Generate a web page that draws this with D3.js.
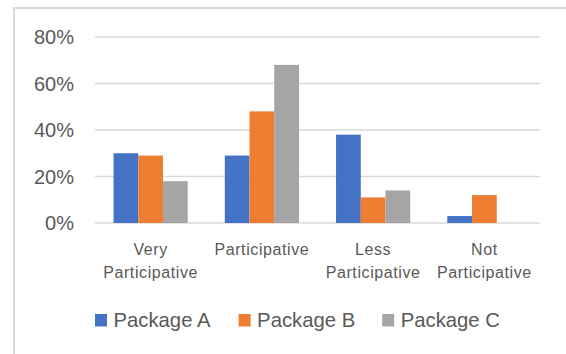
<!DOCTYPE html>
<html>
<head>
<meta charset="utf-8">
<script src="https://cdn.jsdelivr.net/npm/d3@7"></script>
<style>
  body { margin: 0; background: #fff; }
  svg { display: block; font-family: "Liberation Sans", Arial, sans-serif; }
</style>
</head>
<body>
<div id="chart"></div>
<script>
// data
var categories = [["Very", "Participative"], ["Participative"], ["Less", "Participative"], ["Not", "Participative"]];
var seriesNames = ["Package A", "Package B", "Package C"];
var packageA = [0.30, 0.29, 0.38, 0.03];
var packageB = [0.29, 0.48, 0.11, 0.12];
var packageC = [0.18, 0.68, 0.14, 0];
var yTicks = [0, 0.2, 0.4, 0.6, 0.8];
var colors = ["#4472C4", "#ED7D31", "#A5A5A5"];

var W = 566, H = 354;
var svg = d3.select("#chart").append("svg")
    .attr("width", W)
    .attr("height", H);

// chart frame (runs off the right/bottom edge)
svg.append("rect")
    .attr("x", 14).attr("y", 8)
    .attr("width", 600).attr("height", 400)
    .attr("fill", "none")
    .attr("stroke", "#D9D9D9")
    .attr("stroke-width", 2);

var plot = { left: 95, right: 540, top: 37, bottom: 223 };

var keys = categories.map(function (c) { return c.join(" "); });
var x = d3.scaleBand()
    .domain(keys)
    .range([plot.left, plot.right]);

var groupW = x.bandwidth() / 1.5 * 1; // gap width ~150%
var x1 = d3.scaleBand()
    .domain(seriesNames)
    .range([0, x.bandwidth() * 3 / 4.5]);

var y = d3.scaleLinear()
    .domain([0, 0.8])
    .range([plot.bottom, plot.top]);

// gridlines
svg.append("g")
    .selectAll("line")
    .data(yTicks)
    .enter().append("line")
    .attr("x1", plot.left).attr("x2", plot.right)
    .attr("y1", function (d) { return y(d); })
    .attr("y2", function (d) { return y(d); })
    .attr("stroke", "#D9D9D9")
    .attr("stroke-width", 1.5);

// y axis labels
svg.append("g")
    .selectAll("text")
    .data(yTicks)
    .enter().append("text")
    .attr("x", 74)
    .attr("y", function (d) { return y(d); })
    .attr("dy", "0.36em")
    .attr("text-anchor", "end")
    .attr("font-size", 20)
    .attr("fill", "#595959")
    .text(d3.format(".0%"));

// bars
var series = [packageA, packageB, packageC];
var offset = (x.bandwidth() - x1.range()[1]) / 2;
series.forEach(function (vals, si) {
    svg.append("g")
        .attr("fill", colors[si])
        .selectAll("rect")
        .data(vals)
        .enter().append("rect")
        .attr("x", function (d, i) { return x(keys[i]) + offset + x1(seriesNames[si]); })
        .attr("y", function (d) { return y(d); })
        .attr("width", x1.bandwidth())
        .attr("height", function (d) { return y(0) - y(d); });
});

// category labels
var catLabels = svg.append("g")
    .selectAll("text")
    .data(categories)
    .enter().append("text")
    .attr("x", function (d, i) { return x(keys[i]) + x.bandwidth() / 2; })
    .attr("y", 255)
    .attr("text-anchor", "middle")
    .attr("font-size", 16)
    .attr("letter-spacing", "0.6px")
    .attr("fill", "#595959");

catLabels.selectAll("tspan")
    .data(function (d) { return d; })
    .enter().append("tspan")
    .attr("x", function () { return d3.select(this.parentNode).attr("x"); })
    .attr("dy", function (d, i) { return i ? 23 : 0; })
    .text(function (d) { return d; });

// legend
var legend = svg.append("g")
    .selectAll("g")
    .data(seriesNames)
    .enter().append("g")
    .attr("transform", function (d, i) { return "translate(" + (95 + i * 143.6) + ",0)"; });

legend.append("rect")
    .attr("x", 0).attr("y", 314)
    .attr("width", 12).attr("height", 12.5)
    .attr("fill", function (d, i) { return colors[i]; });

legend.append("text")
    .attr("x", 18.5)
    .attr("y", 327)
    .attr("font-size", 20.3)
    .attr("fill", "#595959")
    .text(function (d) { return d; });
</script>
</body>
</html>
